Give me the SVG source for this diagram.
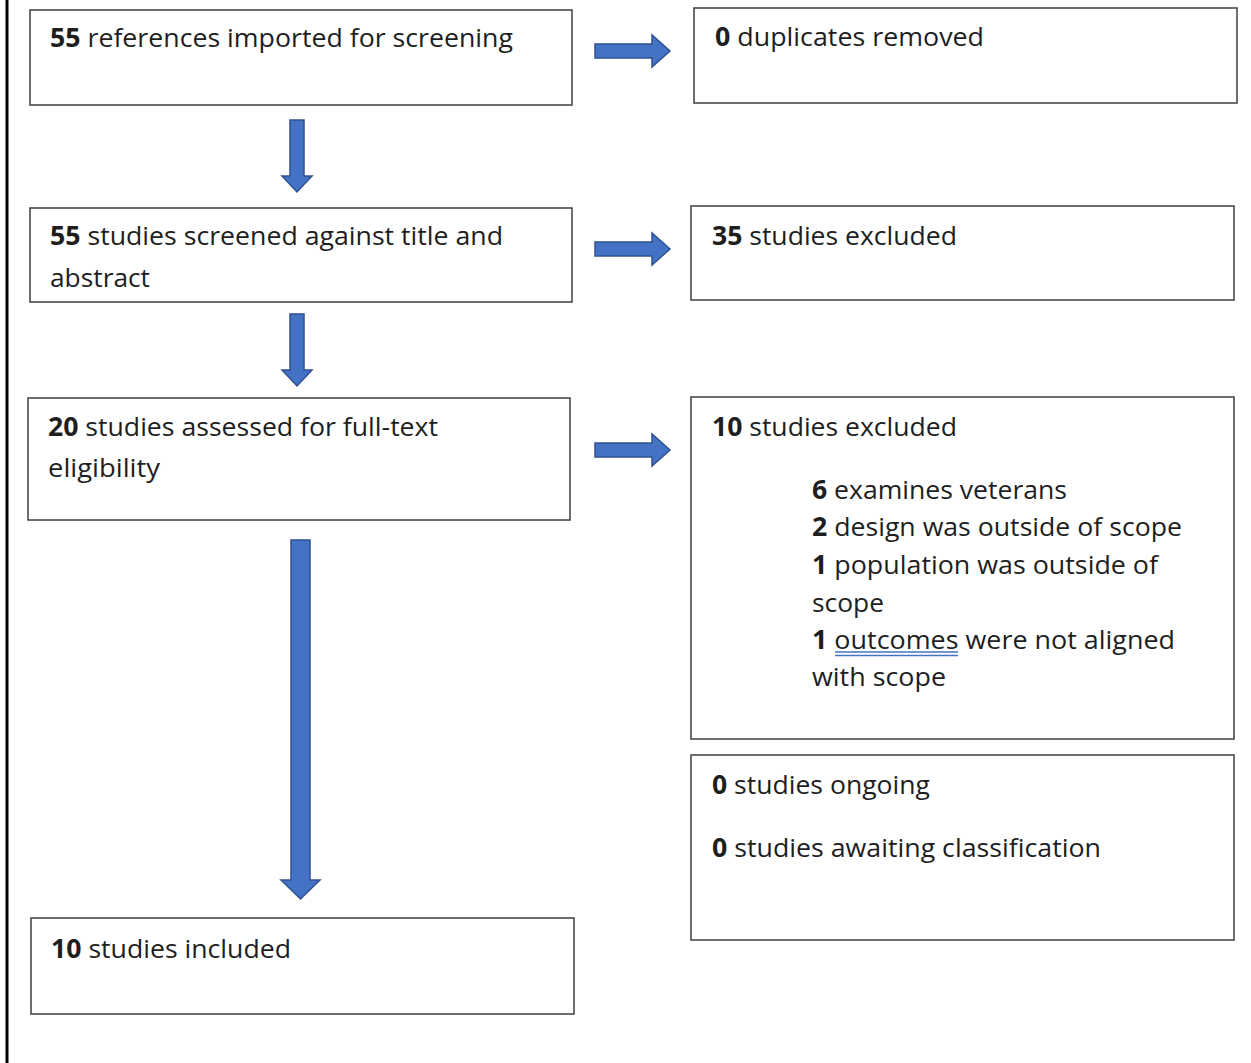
<svg xmlns="http://www.w3.org/2000/svg" width="1251" height="1063" viewBox="0 0 1251 1063">
<defs>
<style>
.box{fill:#fff;stroke:#3f3f3f;stroke-width:1.5}
text{font-family:"Open Sans","Liberation Sans",sans-serif;font-size:26px;fill:#1e1e1e}
.b{font-weight:bold}
.arr{fill:#4472C4;stroke:#2F528F;stroke-width:1.5}
</style>
<path id="ra" d="M0,-7 L57,-7 L57,-16 L75,0 L57,16 L57,7 L0,7 Z"/>
</defs>
<rect width="1251" height="1063" fill="#fff"/>
<line x1="7" y1="0" x2="7" y2="1063" stroke="#000" stroke-width="3"/>
<g id="connectors">
<use href="#ra" class="arr" x="595" y="51"/>
<use href="#ra" class="arr" x="595" y="249"/>
<use href="#ra" class="arr" x="595" y="450"/>
<path class="arr" d="M290,120 L304,120 L304,176 L312,176 L297,192 L282,176 L290,176 Z"/>
<path class="arr" d="M290,314 L304,314 L304,370 L312,370 L297,386 L282,370 L290,370 Z"/>
<path class="arr" d="M291,540 L310,540 L310,880 L320,880 L300.5,899 L281,880 L291,880 Z"/>
</g>
<g id="n1"><rect class="box" x="30" y="10" width="542" height="95"/>
<text x="50" y="47" textLength="463" lengthAdjust="spacingAndGlyphs"><tspan class="b">55</tspan> references imported for screening</text></g>
<g id="n2"><rect class="box" x="694" y="8" width="543" height="95"/>
<text x="715" y="46" textLength="269" lengthAdjust="spacingAndGlyphs"><tspan class="b">0</tspan> duplicates removed</text></g>
<g id="n3"><rect class="box" x="30" y="208" width="542" height="94"/>
<text x="50" y="245" textLength="453" lengthAdjust="spacingAndGlyphs"><tspan class="b">55</tspan> studies screened against title and</text>
<text x="50" y="287" textLength="100" lengthAdjust="spacingAndGlyphs">abstract</text></g>
<g id="n4"><rect class="box" x="691" y="206" width="543" height="94"/>
<text x="712" y="245" textLength="245" lengthAdjust="spacingAndGlyphs"><tspan class="b">35</tspan> studies excluded</text></g>
<g id="n5"><rect class="box" x="28" y="398" width="542" height="122"/>
<text x="48" y="436" textLength="390" lengthAdjust="spacingAndGlyphs"><tspan class="b">20</tspan> studies assessed for full-text</text>
<text x="48" y="477" textLength="112" lengthAdjust="spacingAndGlyphs">eligibility</text></g>
<g id="n6"><rect class="box" x="691" y="397" width="543" height="342"/>
<text x="712" y="436" textLength="245" lengthAdjust="spacingAndGlyphs"><tspan class="b">10</tspan> studies excluded</text>
<text x="812" y="499" textLength="255" lengthAdjust="spacingAndGlyphs"><tspan class="b">6</tspan> examines veterans</text>
<text x="812" y="536" textLength="370" lengthAdjust="spacingAndGlyphs"><tspan class="b">2</tspan> design was outside of scope</text>
<text x="812" y="574" textLength="346" lengthAdjust="spacingAndGlyphs"><tspan class="b">1</tspan> population was outside of</text>
<text x="812" y="612" textLength="72" lengthAdjust="spacingAndGlyphs">scope</text>
<text x="812" y="649" textLength="363" lengthAdjust="spacingAndGlyphs"><tspan class="b">1</tspan> outcomes were not aligned</text>
<line x1="835" y1="652" x2="958" y2="652" stroke="#4472C4" stroke-width="1.3"/>
<line x1="835" y1="655.5" x2="958" y2="655.5" stroke="#4472C4" stroke-width="1.3"/>
<text x="812" y="686" textLength="134" lengthAdjust="spacingAndGlyphs">with scope</text></g>
<g id="n7"><rect class="box" x="691" y="755" width="543" height="185"/>
<text x="712" y="794" textLength="218" lengthAdjust="spacingAndGlyphs"><tspan class="b">0</tspan> studies ongoing</text>
<text x="712" y="857" textLength="389" lengthAdjust="spacingAndGlyphs"><tspan class="b">0</tspan> studies awaiting classification</text></g>
<g id="n8"><rect class="box" x="31" y="918" width="543" height="96"/>
<text x="51" y="958" textLength="240" lengthAdjust="spacingAndGlyphs"><tspan class="b">10</tspan> studies included</text></g>
</svg>
